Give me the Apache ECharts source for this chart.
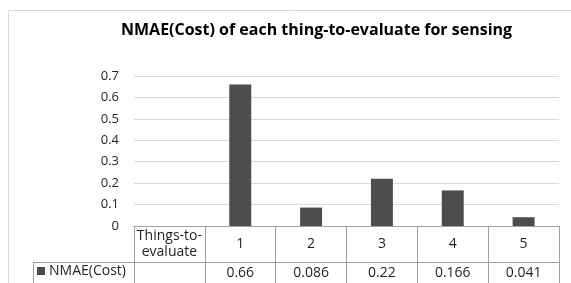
<!DOCTYPE html>
<html><head><meta charset="utf-8">
<script src="https://cdn.jsdelivr.net/npm/echarts@6/dist/echarts.min.js"></script>
<style>html,body{margin:0;padding:0;background:#fff}#c{width:571px;height:283px}</style>
</head><body><div id="c"></div>
<script>
const titleText = 'NMAE(Cost) of each thing-to-evaluate for sensing';
const seriesName = 'NMAE(Cost)';
const categories = ['Things-to-\nevaluate', '1', '2', '3', '4', '5'];
const values = [null, 0.66, 0.086, 0.22, 0.166, 0.041];
const yMin = 0, yMax = 0.7, yStep = 0.1;

const valueLabels = values.map(v => v == null ? '' : String(v));
const FONT = 'Open Sans';
const lineCol = '#a0a0a0';
const textCol = '#1f1f1f';

const chart = echarts.init(document.getElementById('c'), null, {renderer: 'canvas'});
chart.setOption({
  animation: false,
  backgroundColor: '#fff',
  title: {
    text: titleText, left: 121, top: 22, padding: 0,
    textStyle: {fontFamily: FONT, fontSize: 16, fontWeight: 'bold', color: '#000'}
  },
  legend: {
    data: [seriesName], left: 37, top: 264, padding: 0,
    icon: 'rect', itemWidth: 8, itemHeight: 8, itemGap: 4,
    textStyle: {fontFamily: FONT, fontSize: 14, color: textCol, padding: [0, 0, 0, -1]}
  },
  grid: {left: 134, right: 12, top: 76, bottom: 57},
  xAxis: [{
    type: 'category', data: categories, position: 'bottom',
    axisLine: {show: true, lineStyle: {color: lineCol, width: 1}},
    axisTick: {show: true, length: 36, lineStyle: {color: lineCol}},
    axisLabel: {margin: 18, verticalAlign: 'middle', fontFamily: FONT, fontSize: 14, color: textCol, lineHeight: 16, interval: 0}
  }, {
    type: 'category', data: valueLabels, position: 'bottom', offset: 36,
    axisLine: {show: true, lineStyle: {color: lineCol, width: 1}},
    axisTick: {show: true, length: 24, lineStyle: {color: lineCol}},
    axisLabel: {margin: 11, verticalAlign: 'middle', fontFamily: FONT, fontSize: 14, color: textCol, interval: 0}
  }],
  yAxis: {
    type: 'value', min: yMin, max: yMax, interval: yStep,
    axisLine: {show: false}, axisTick: {show: false},
    splitLine: {lineStyle: {color: '#d9d9d9'}},
    axisLabel: {margin: 15, fontFamily: FONT, fontSize: 13, color: textCol}
  },
  series: [{
    name: seriesName, type: 'bar', data: values, xAxisIndex: 0,
    barWidth: '31%', itemStyle: {color: '#4d4d4d'}
  }],
  graphic: [
    {type: 'rect', shape: {x: 8.5, y: 10.5, width: 600, height: 400}, style: {fill: 'none', stroke: '#d9d9d9', lineWidth: 1}, silent: true, z: -1},
    {type: 'line', shape: {x1: 33.5, y1: 262.5, x2: 134, y2: 262.5}, style: {stroke: lineCol, lineWidth: 1}},
    {type: 'line', shape: {x1: 33.5, y1: 262, x2: 33.5, y2: 290}, style: {stroke: lineCol, lineWidth: 1}}
  ]
});
</script></body></html>
